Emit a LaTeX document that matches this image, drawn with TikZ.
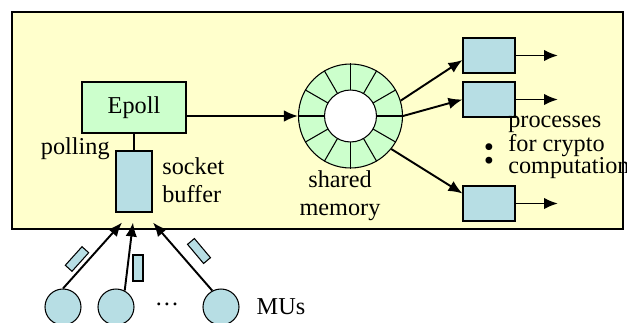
\documentclass[tikz,border=0pt]{standalone}
\usepackage{fontspec}
\setmainfont{Liberation Serif}
\usetikzlibrary{arrows.meta, positioning, calc, shapes.geometric}

\definecolor{bgyellow}{RGB}{255,255,204}
\definecolor{boxgreen}{RGB}{204,255,204}
\definecolor{boxblue}{RGB}{183,222,228}

\begin{document}
\begin{tikzpicture}[x=0.02cm, y=-0.02cm, >={Latex[length=2.8mm,width=2.3mm]},
  every node/.style={font=\fontsize{13.8}{16}\selectfont},
  greenbox/.style={draw, fill=boxgreen, line width=0.6pt, inner sep=0pt},
  bluebox/.style={draw, fill=boxblue, line width=0.6pt, inner sep=0pt},
  packet/.style={bluebox, minimum width=0.5cm, minimum height=0.18cm},
  mu/.style={circle, draw, fill=boxblue, line width=0.6pt, minimum size=0.72cm, inner sep=0pt},
  flow/.style={->, line width=1.1pt}]
  \useasboundingbox (0,0) rectangle (627,322);

  % Server frame
  \draw[fill=bgyellow, line width=0.6pt] (12,12) rectangle (623,229);

  % Epoll and socket buffer
  \node[greenbox, minimum width=2.08cm, minimum height=1.02cm] (epoll) at (134,107.5) {Epoll};
  \node[bluebox, minimum width=0.72cm, minimum height=1.22cm] (sockbuf) at (134,181.5) {};
  \draw[line width=0.6pt] (epoll.south) -- (sockbuf.north);
  \node[anchor=east, inner sep=0pt] (polling) at (110,149) {polling};
  \node[anchor=west, align=left, inner sep=0pt] (sockbuflbl) at (162,180) {socket\\buffer};

  % Shared memory ring
  \node[circle, greenbox, minimum size=2.08cm] (ring) at (350.5,116) {};
  \draw[fill=white, line width=0.6pt] (ring.center) circle[radius=0.52cm];
  \foreach \a in {0,30,...,330}
    \draw[line width=0.6pt] ($(ring.center)+(\a:0.52cm)$) -- (ring.\a);
  \node[align=center, inner sep=0pt] (shmlbl) at (340,196) {shared\\memory};
  \draw[flow] (epoll.east |- ring.west) -- (ring.west);

  % Crypto processes
  \node[bluebox, minimum width=1.04cm, minimum height=0.7cm] (proc1) at (489,55.5) {};
  \node[bluebox, minimum width=1.04cm, minimum height=0.7cm] (proc2) at (489,99.5) {};
  \node[bluebox, minimum width=1.04cm, minimum height=0.7cm] (proc3) at (489,203.5) {};
  \draw[flow] (ring.17) -- ([yshift=-0.09cm]proc1.west);
  \draw[flow] (ring.east) -- (proc2.west);
  \draw[flow] (ring.-39) -- ([yshift=0.2cm]proc3.west);
  \coordinate (out1) at (558,55.5);
  \coordinate (out2) at (558,99.5);
  \coordinate (out3) at (558,203.5);
  \draw[flow] (proc1.east) -- (out1);
  \draw[flow] (proc2.east) -- (out2);
  \draw[flow] (proc3.east) -- (out3);
  \node[inner sep=0pt, font=\fontsize{24}{24}\selectfont\bfseries] (vdots) at (490,154) {:};
  \node[anchor=west, align=left, inner sep=0pt, font=\fontsize{13.8}{12.5}\selectfont] (proclbl) at (508,147) {processes\\for crypto\\computation};

  % Mobile users
  \node[mu] (mu1) at (63,307) {};
  \node[mu] (mu2) at (116,307) {};
  \node[mu] (mu3) at (221,307) {};
  \node[inner sep=0pt] (mudots) at (167,304) {\dots};
  \node[inner sep=0pt] (mulbl) at (281,307) {MUs};
  \draw[flow] (mu1.north) -- ($(sockbuf.south)+(-12,10)$);
  \draw[flow] (mu2.62) -- ($(sockbuf.south)+(-1,10)$);
  \draw[flow] (mu3.118) -- ($(sockbuf.south)+(19,10)$);

  % Packets
  \node[packet, rotate=48] (pkt1) at (77,259) {};
  \node[packet, rotate=90, minimum width=0.52cm, minimum height=0.2cm] (pkt2) at (138,268) {};
  \node[packet, rotate=-50] (pkt3) at (199,251) {};
\end{tikzpicture}
\end{document}
